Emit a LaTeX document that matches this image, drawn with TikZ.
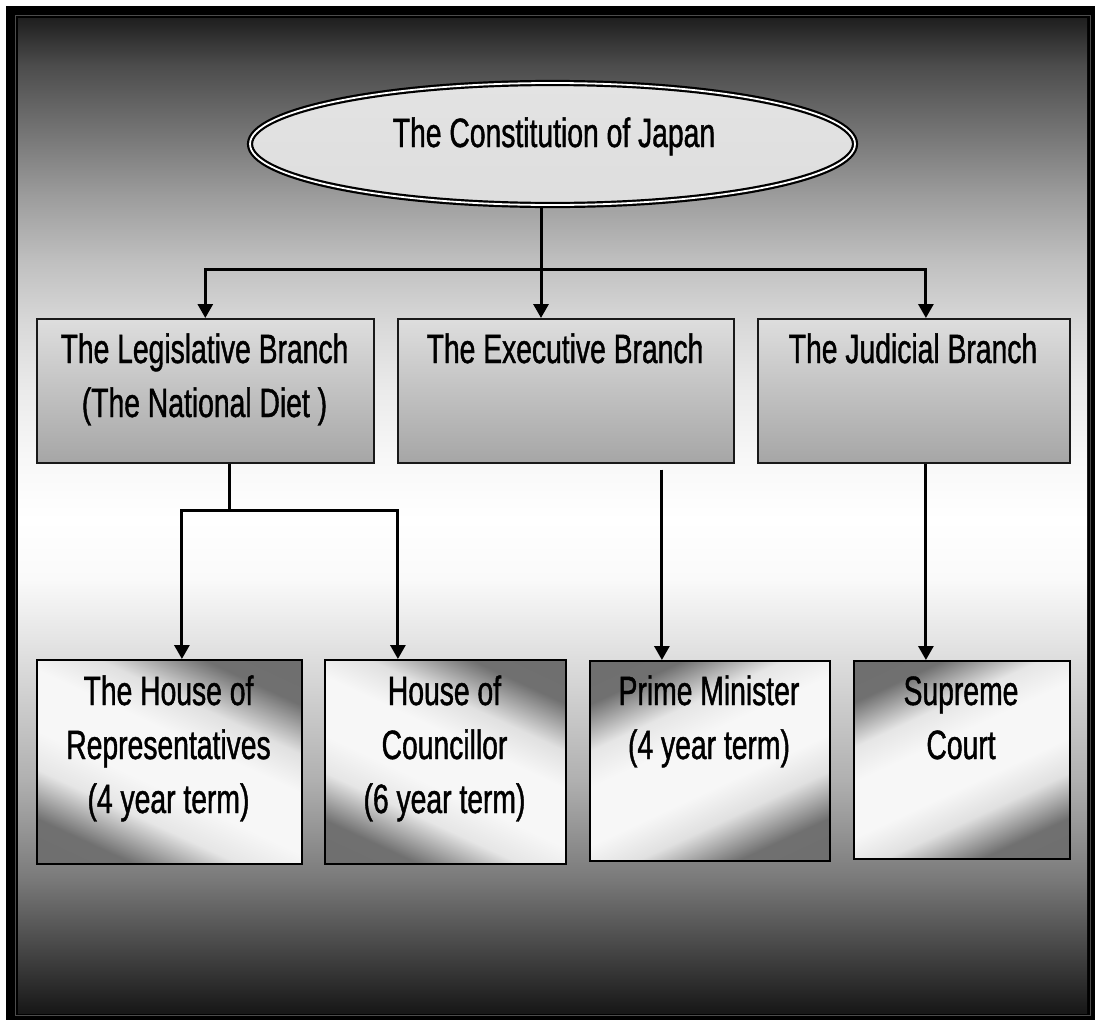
\documentclass[tikz,border=0pt]{standalone}
\usepackage{fontspec}
\setmainfont[FakeStretch=0.69,FakeBold=1.0]{Liberation Sans}
\usetikzlibrary{shapes.geometric,arrows.meta}

\pgfdeclareverticalshading{bgshade}{100bp}{%
 rgb(0bp)=(.09,.09,.09); rgb(25bp)=(.09,.09,.09);
 rgb(26.9bp)=(.20,.20,.20); rgb(31.8bp)=(.48,.48,.48);
 rgb(36.7bp)=(.69,.69,.69); rgb(43.2bp)=(.88,.88,.88);
 rgb(46.8bp)=(.98,.98,.98); rgb(49.8bp)=(1,1,1);
 rgb(53bp)=(.97,.97,.97); rgb(56.3bp)=(.92,.92,.92);
 rgb(59.6bp)=(.85,.85,.85); rgb(62.8bp)=(.75,.75,.75);
 rgb(66.1bp)=(.61,.61,.61); rgb(69.4bp)=(.45,.45,.45);
 rgb(72.6bp)=(.30,.30,.30); rgb(75bp)=(.12,.12,.12);
 rgb(100bp)=(.12,.12,.12)}

\pgfdeclarehorizontalshading{diagshade}{100bp}{%
 rgb(0bp)=(.42,.42,.42); rgb(26bp)=(.44,.44,.44);
 rgb(36bp)=(.90,.90,.90); rgb(44bp)=(.97,.97,.97);
 rgb(56bp)=(.97,.97,.97); rgb(64bp)=(.88,.88,.88);
 rgb(74bp)=(.44,.44,.44); rgb(100bp)=(.42,.42,.42)}

\newcommand{\boxtext}[1]{\parbox[t]{340pt}{\centering #1}}

\tikzset{
  txt/.style={inner sep=0pt, anchor=base, font=\fontsize{41}{54}\selectfont},
  ell/.style={ellipse, draw=black, double=white, double distance=1.8pt, line width=2.2pt,
              shade, top color=black!11, middle color=black!4, bottom color=black!13,
              minimum width=605pt, minimum height=122pt, inner sep=0pt},
  topbox/.style={draw=black!90, line width=1.6pt, shade, top color=black!13, bottom color=black!35,
                 anchor=north west, inner sep=0pt},
  lowbox/.style={draw=black, line width=1.8pt, shading=diagshade, anchor=north west, inner sep=0pt},
  plain/.style={line width=3pt, black},
  conn/.style={line width=3pt, black, -{Triangle[width=15pt,length=14pt]}}
}

\begin{document}
\begin{tikzpicture}[x=1pt,y=-1pt]
\fill[white] (0,0) rectangle (1095,1020);
\useasboundingbox (0,0) rectangle (1095,1020);
\fill[black] (6,6) rectangle (1095,1020);
\shade[shading=bgshade] (18,18) rectangle (1087,1013);
\draw[black!70, line width=0.8pt] (15.5,15.5) rectangle (1090,1015.5);

% ellipse
\node[ell] (con) at (552.5,144) {};
\node[txt] (conT) at (554,147) {The Constitution of Japan};

% first row
\node[topbox, minimum width=337pt, minimum height=144pt] (leg) at (36,318) {};
\node[topbox, minimum width=336pt, minimum height=144pt] (exe) at (397,318) {};
\node[topbox, minimum width=312pt, minimum height=144pt] (jud) at (757,318) {};
\node[txt] (legT) at (204.5,363) {\boxtext{The Legislative Branch\\(The National Diet )}};
\node[txt] (exeT) at (565,363) {\boxtext{The Executive Branch}};
\node[txt] (judT) at (913,363) {\boxtext{The Judicial Branch}};

% second row
\node[lowbox, shading angle=65, minimum width=265pt, minimum height=204pt] (hr) at (36,659) {};
\node[lowbox, shading angle=65, minimum width=241pt, minimum height=204pt] (co) at (324,659) {};
\node[lowbox, shading angle=-65, minimum width=240pt, minimum height=200pt] (pm) at (589,660) {};
\node[lowbox, shading angle=-65, minimum width=216pt, minimum height=198pt] (sc) at (853,660) {};
\node[txt] (hrT) at (168.5,705) {\boxtext{The House of\\Representatives\\(4 year term)}};
\node[txt] (coT) at (444.5,705) {\boxtext{House of\\Councillor\\(6 year term)}};
\node[txt] (pmT) at (709,705) {\boxtext{Prime Minister\\(4 year term)}};
\node[txt] (scT) at (961,705) {\boxtext{Supreme\\Court}};

% connectors
\coordinate (bus) at (541,269);
\coordinate (ja) at ([xshift=-36pt]sc.north);
\coordinate (pa) at ([xshift=-48pt]pm.north);
\coordinate (lb) at (229,510);

\draw[conn] (con.south -| bus) -- (bus |- exe.north);
\draw[conn] (bus) -| (leg.north);
\draw[conn] (bus) -| (ja |- jud.north);

\draw[plain] (leg.south -| lb) -- (lb);
\draw[conn] (lb) -| ([xshift=12.5pt]hr.north);
\draw[conn] (lb) -| ([xshift=-47.5pt]co.north);

\draw[conn] (pa |- exe.south) ++(0,6) -- (pa);
\draw[conn] (jud.south -| ja) -- (ja);
\end{tikzpicture}
\end{document}
